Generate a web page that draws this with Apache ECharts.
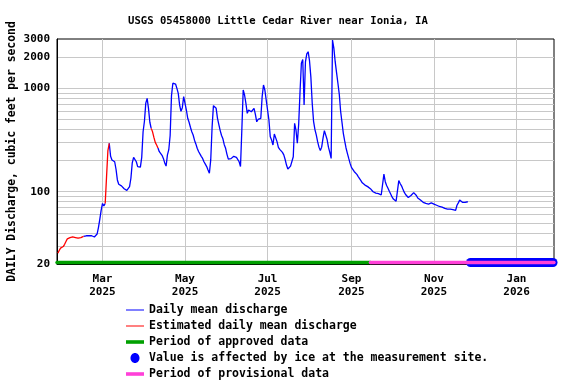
<!DOCTYPE html>
<html><head><meta charset="utf-8">
<script src="https://cdn.jsdelivr.net/npm/echarts@6/dist/echarts.min.js"></script>
<style>html,body{margin:0;padding:0;background:#fff}#c{width:576px;height:384px}</style>
</head><body><div id="c"></div>
<script>
const titleText = 'USGS 05458000 Little Cedar River near Ionia, IA';
const yAxisName = 'DAILY Discharge, cubic feet per second';
const xTickDates = ['2025-03-01','2025-05-01','2025-07-01','2025-09-01','2025-11-01','2026-01-01'];
const yLabelValues = [20, 100, 1000, 2000, 3000];
const yGridValues = [30,40,50,60,70,80,90,100,200,300,400,500,600,700,800,900,1000,2000];
const axisStart = '2025-01-26 09:00:00';
const axisEnd = '2026-01-28 17:00:00';
const approvedPeriod = [axisStart, '2025-09-15'];
const provisionalPeriod = ['2025-09-15', axisEnd];
const icePeriod = ['2025-11-28', '2026-01-28'];

const estimatedA = [['2025-01-27',25.5],['2025-01-28',27],['2025-01-29',28.5],['2025-01-30',29],['2025-01-31',29.5],['2025-02-01',31],['2025-02-02',33],['2025-02-03',35],['2025-02-04',35.5],['2025-02-05',36],['2025-02-06',36.5],['2025-02-07',36.5],['2025-02-08',36.5],['2025-02-09',36],['2025-02-10',36],['2025-02-11',35.5],['2025-02-12',35.5],['2025-02-13',36],['2025-02-14',36.5],['2025-02-15',37]];
const dailyMeanA = [['2025-02-15',37],['2025-02-16',37.5],['2025-02-17',37.5],['2025-02-18',37.5],['2025-02-19',37.5],['2025-02-20',37.5],['2025-02-21',37.5],['2025-02-22',37.5],['2025-02-23',36.5],['2025-02-24',36],['2025-02-25',39],['2025-02-26',45],['2025-02-27',54],['2025-02-28',66],['2025-03-01',77],['2025-03-02',73],['2025-03-03',77]];
const estimatedB = [['2025-03-03',77],['2025-03-04',140],['2025-03-05',250],['2025-03-06',294]];
const dailyMeanB = [['2025-03-06',294],['2025-03-07',220],['2025-03-08',203],['2025-03-09',200],['2025-03-10',195],['2025-03-11',165],['2025-03-12',130],['2025-03-13',118],['2025-03-14',114],['2025-03-15',114],['2025-03-16',111],['2025-03-17',107],['2025-03-18',103],['2025-03-19',103],['2025-03-20',105],['2025-03-21',112],['2025-03-22',135],['2025-03-23',190],['2025-03-24',215],['2025-03-25',210],['2025-03-26',195],['2025-03-27',175],['2025-03-28',170],['2025-03-29',173],['2025-03-30',215],['2025-03-31',380],['2025-04-01',480],['2025-04-02',720],['2025-04-03',800],['2025-04-04',640],['2025-04-05',470],['2025-04-06',410]];
const estimatedC = [['2025-04-06',410],['2025-04-07',380],['2025-04-08',335],['2025-04-09',300],['2025-04-10',283],['2025-04-11',265]];
const dailyMeanC = [['2025-04-11',265],['2025-04-12',244],['2025-04-13',235],['2025-04-14',225],['2025-04-15',210],['2025-04-16',190],['2025-04-17',177],['2025-04-18',227],['2025-04-19',255],['2025-04-20',350],['2025-04-21',850],['2025-04-22',1120],['2025-04-23',1130],['2025-04-24',1100],['2025-04-25',1000],['2025-04-26',895],['2025-04-27',690],['2025-04-28',600],['2025-04-29',650],['2025-04-30',830],['2025-05-01',801],['2025-05-02',617],['2025-05-03',513],['2025-05-04',470],['2025-05-05',420],['2025-05-06',380],['2025-05-07',354],['2025-05-08',315],['2025-05-09',290],['2025-05-10',263],['2025-05-11',245],['2025-05-12',232],['2025-05-13',220],['2025-05-14',210],['2025-05-15',195],['2025-05-16',185],['2025-05-17',175],['2025-05-18',162],['2025-05-19',151],['2025-05-20',203],['2025-05-21',420],['2025-05-22',680],['2025-05-23',701],['2025-05-24',641],['2025-05-25',513],['2025-05-26',445],['2025-05-27',390],['2025-05-28',350],['2025-05-29',325],['2025-05-30',285],['2025-05-31',263],['2025-06-01',230],['2025-06-02',207],['2025-06-03',207],['2025-06-04',209],['2025-06-05',218],['2025-06-06',220],['2025-06-07',222],['2025-06-08',215],['2025-06-09',210],['2025-06-10',195],['2025-06-11',175],['2025-06-12',400],['2025-06-13',964],['2025-06-14',862],['2025-06-15',716],['2025-06-16',573],['2025-06-17',617],['2025-06-18',641],['2025-06-19',594],['2025-06-20',620],['2025-06-21',641],['2025-06-22',560],['2025-06-23',475],['2025-06-24',500],['2025-06-25',518],['2025-06-26',513],['2025-06-27',830],['2025-06-28',1077],['2025-06-29',964],['2025-06-30',771],['2025-07-01',617],['2025-07-02',494],['2025-07-03',340],['2025-07-04',316],['2025-07-05',283],['2025-07-06',361],['2025-07-07',367],['2025-07-08',305],['2025-07-09',269],['2025-07-10',257],['2025-07-11',253],['2025-07-12',240],['2025-07-13',227],['2025-07-14',205],['2025-07-15',181],['2025-07-16',166],['2025-07-17',170],['2025-07-18',177],['2025-07-19',172],['2025-07-20',218],['2025-07-21',459],['2025-07-22',395],['2025-07-23',294],['2025-07-24',450],['2025-07-25',928],['2025-07-26',1750],['2025-07-27',1900],['2025-07-28',690],['2025-07-29',1800],['2025-07-30',2150],['2025-07-31',2260],['2025-08-01',1850],['2025-08-02',1290],['2025-08-03',720],['2025-08-04',480],['2025-08-05',400],['2025-08-06',355],['2025-08-07',305],['2025-08-08',270],['2025-08-09',250],['2025-08-10',270],['2025-08-11',330],['2025-08-12',390],['2025-08-13',375],['2025-08-14',320],['2025-08-15',270],['2025-08-16',240],['2025-08-17',210],['2025-08-18',2932],['2025-08-19',2450],['2025-08-20',1800],['2025-08-21',1420],['2025-08-22',1120],['2025-08-23',880],['2025-08-24',600],['2025-08-25',470],['2025-08-26',367],['2025-08-27',310],['2025-08-28',265],['2025-08-29',235],['2025-08-30',210],['2025-08-31',188],['2025-09-01',172],['2025-09-02',165],['2025-09-03',157],['2025-09-04',152],['2025-09-05',147],['2025-09-06',140],['2025-09-07',134],['2025-09-08',128],['2025-09-09',122],['2025-09-10',117],['2025-09-11',116],['2025-09-12',116],['2025-09-13',112],['2025-09-14',110],['2025-09-15',107],['2025-09-16',105],['2025-09-17',100],['2025-09-18',98],['2025-09-19',97],['2025-09-20',97],['2025-09-21',96],['2025-09-22',95],['2025-09-23',93],['2025-09-24',97],['2025-09-25',148],['2025-09-26',125],['2025-09-27',115],['2025-09-28',108],['2025-09-29',101],['2025-09-30',95],['2025-10-01',89],['2025-10-02',85],['2025-10-03',83],['2025-10-04',81],['2025-10-05',78],['2025-10-06',128],['2025-10-07',120],['2025-10-08',114],['2025-10-09',106],['2025-10-10',99],['2025-10-11',94],['2025-10-12',90],['2025-10-13',88],['2025-10-14',86],['2025-10-15',92],['2025-10-16',96],['2025-10-17',98],['2025-10-18',95],['2025-10-19',92],['2025-10-20',87],['2025-10-21',84],['2025-10-22',83],['2025-10-23',81],['2025-10-24',79],['2025-10-25',77],['2025-10-26',77],['2025-10-27',76],['2025-10-28',76],['2025-10-29',77],['2025-10-30',78],['2025-10-31',77],['2025-11-01',76],['2025-11-02',76],['2025-11-03',74],['2025-11-04',72],['2025-11-05',72],['2025-11-06',71],['2025-11-07',71],['2025-11-08',70],['2025-11-09',69],['2025-11-10',69],['2025-11-11',68],['2025-11-12',68],['2025-11-13',68],['2025-11-14',68],['2025-11-15',67],['2025-11-16',67],['2025-11-17',66],['2025-11-18',74],['2025-11-19',78],['2025-11-20',83],['2025-11-21',81],['2025-11-22',79],['2025-11-23',79],['2025-11-24',79],['2025-11-25',80],['2025-11-26',80]];

const NAME_DAILY = 'Daily mean discharge';
const NAME_EST = 'Estimated daily mean discharge';
const NAME_APPR = 'Period of approved data';
const NAME_ICE = 'Value is affected by ice at the measurement site.';
const NAME_PROV = 'Period of provisional data';

const FONT = 'DejaVu Sans Mono';
const BLUE = '#0000ff', RED = '#ff0000', GREEN = '#00a000', PINK = '#ff40d8';
const BAR_LEVEL = 20.7;

const chart = echarts.init(document.getElementById('c'), null, {renderer: 'canvas'});
const tp = s => echarts.time.parse(s).getTime();
const MON = ['Jan','Feb','Mar','Apr','May','Jun','Jul','Aug','Sep','Oct','Nov','Dec'];
const toXY = arr => arr.map(p => [tp(p[0]), p[1]]);

function lineSeries(name, data, color) {
  return {type: 'line', name, data: toXY(data), color, showSymbol: false, symbol: 'none',
    lineStyle: {width: 1.3, color}, silent: true, z: 3};
}
function periodSeries(name, range, color, width, clip, z) {
  return {type: 'line', name, color, symbol: 'none', showSymbol: false, silent: true, clip, z,
    data: range.map(d => [tp(d), BAR_LEVEL]), lineStyle: {width, color, cap: 'round'}};
}

const option = {
  animation: false,
  backgroundColor: '#fff',
  title: {text: titleText, left: 128, top: 16, padding: 0,
    textStyle: {fontFamily: FONT, fontWeight: 'bold', fontSize: 10.6, color: '#000'}},
  grid: {left: 57, top: 39, width: 497, height: 225, outerBoundsMode: 'none', containLabel: false,
    show: true, borderColor: '#000', borderWidth: 1, backgroundColor: 'transparent'},
  legend: {
    orient: 'vertical', left: 126, top: 304, padding: 0, itemWidth: 18, itemHeight: 10, itemGap: 4,
    height: 90, selectedMode: false,
    itemStyle: {borderWidth: 0},
    textStyle: {fontFamily: FONT, fontWeight: 'bold', fontSize: 11.5, color: '#000', lineHeight: 12},
    data: [
      {name: NAME_DAILY, icon: 'path://M0,0H18V1H0Z'},
      {name: NAME_EST, icon: 'path://M0,0H18V1H0Z'},
      {name: NAME_APPR, icon: 'path://M0,0H18V3.6H0Z'},
      {name: NAME_ICE, icon: 'path://M4.5,0C7,0,9,2.2,9,5C9,7.8,7,10,4.5,10C2,10,0,7.8,0,5C0,2.2,2,0,4.5,0Z'},
      {name: NAME_PROV, icon: 'path://M0,0H18V3.6H0Z'}
    ]
  },
  xAxis: {
    type: 'value', min: tp(axisStart), max: tp(axisEnd),
    axisLine: {show: true, lineStyle: {color: '#000', width: 1}},
    axisTick: {show: false, customValues: xTickDates.map(tp)},
    axisLabel: {customValues: xTickDates.map(tp), margin: 9, hideOverlap: false,
      fontFamily: FONT, fontWeight: 'bold', fontSize: 11, color: '#000', lineHeight: 13,
      formatter: v => { const d = new Date(v); return MON[d.getMonth()] + '\n' + d.getFullYear(); }},
    splitLine: {show: true, lineStyle: {color: '#c8c8c8', width: 1}}
  },
  yAxis: {
    type: 'log', logBase: 10, min: 20, max: 3000,
    name: yAxisName, nameLocation: 'middle', nameGap: 39, nameRotate: 90, nameMoveOverlap: false,
    nameTextStyle: {fontFamily: FONT, fontWeight: 'bold', fontSize: 11.4, color: '#000'},
    axisLine: {show: true, lineStyle: {color: '#000', width: 1}},
    axisTick: {show: false, customValues: yGridValues},
    axisLabel: {customValues: yLabelValues, margin: 7, fontFamily: FONT, fontWeight: 'bold', fontSize: 11, color: '#000',
      formatter: v => String(Math.round(v))},
    splitLine: {show: true, lineStyle: {color: '#c8c8c8', width: 1}}
  },
  series: [
    periodSeries(NAME_ICE, icePeriod, BLUE, 9, false, 4),
    periodSeries(NAME_APPR, approvedPeriod, GREEN, 3.4, true, 5),
    periodSeries(NAME_PROV, provisionalPeriod, PINK, 3.4, true, 5),
    lineSeries(NAME_DAILY, dailyMeanA, BLUE),
    lineSeries(NAME_DAILY, dailyMeanB, BLUE),
    lineSeries(NAME_DAILY, dailyMeanC, BLUE),
    lineSeries(NAME_EST, estimatedA, RED),
    lineSeries(NAME_EST, estimatedB, RED),
    lineSeries(NAME_EST, estimatedC, RED)
  ]
};
chart.setOption(option);
</script></body></html>
